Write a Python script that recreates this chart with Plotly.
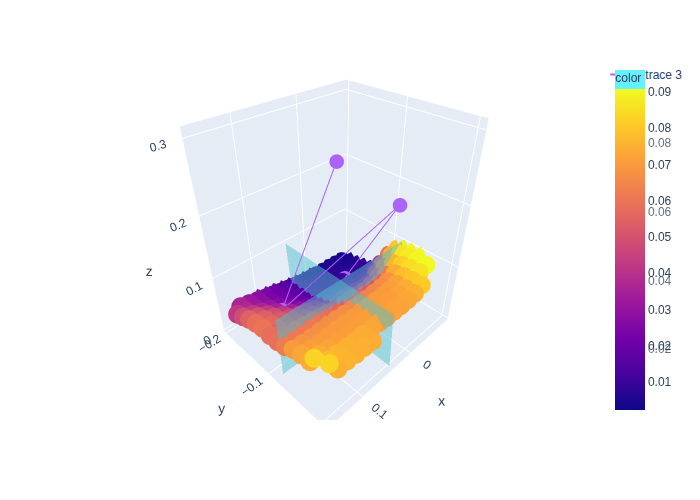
import plotly.graph_objects as go

x_grid = [-0.09, -0.075, -0.06, -0.045, -0.03, -0.015, 0.0, 0.015, 0.03, 0.045, 0.06, 0.075, 0.09, 0.105, 0.12, 0.135, 0.15]
y_grid = [-0.203, -0.195, -0.18, -0.165, -0.15, -0.135, -0.12, -0.105, -0.09, -0.075, -0.06, -0.045, -0.03, -0.015, 0.0]
z_table = [
    [None, None, None, None, None, None, .008, .009, .011, .014, .017, .021, .024, .028, None, None, None],
    [None, .003, .004, .005, .005, .006, .007, .008, .011, .014, .017, .021, .024, .028, .032, .036, None],
    [.004, .004, .005, .006, .007, .008, .009, .010, .012, .014, .018, .021, .024, .028, .032, .037, .042],
    [.006, .006, .006, .007, .008, .009, .010, .011, .012, .015, .018, .022, .026, .031, .036, .042, .048],
    [.009, .008, .008, .009, .010, .011, .011, .012, .014, .016, .020, .024, .029, .035, .042, .049, .054],
    [.013, .011, .010, .011, .012, .013, .014, .015, .016, .020, .024, .029, .034, .041, .048, .054, .058],
    [.032, .024, .018, .016, .017, .018, .020, .021, .023, .027, .031, .036, .041, .047, .052, .056, .060],
    [.060, .050, .038, .028, .027, .029, .030, .032, .030, .033, .037, .041, .045, .049, .052, .055, .058],
    [.080, .075, .060, .048, .042, .040, .041, .043, .042, .044, .047, .050, .053, .055, .057, .058, .059],
    [.088, .086, .076, .062, .055, .052, .053, .054, .052, .054, .056, .058, .060, .061, .061, .061, .062],
    [.090, .088, .082, .074, .068, .066, .065, .064, .064, .065, .066, .067, .067, .067, .067, .068, .070],
    [.091, .090, .085, .078, .072, .071, .070, .070, .070, .070, .070, .070, .070, .070, .070, .071, .073],
    [None, .091, .086, .080, .074, .072, .071, .071, .071, .071, .071, .071, .071, .071, .072, .074, .074],
    [None, None, None, .081, .075, .073, .072, .072, .071, .072, .073, .074, .074, .075, .076, .077, None],
    [None, None, None, None, None, None, None, None, None, None, None, .074, .075, .075, .076, .075, None],
]
extra_x = [0.148, 0.141]
extra_y = [-0.025, -0.0075]
extra_z = [0.083, 0.083]

pts_x, pts_y, pts_z = list(extra_x), list(extra_y), list(extra_z)
for yv, row in zip(y_grid, z_table):
    for xv, zv in zip(x_grid, row):
        if zv is not None:
            pts_x.append(xv); pts_y.append(yv); pts_z.append(zv)

wall1_x = [[0.043, 0.045], [0.035, 0.042]]
wall1_y = [[-0.197, 0.006], [-0.2, 0.006]]
wall1_z = [[0.1013, 0.1013], [0.0022, 0.0022]]
wall2_x = [[-0.085, 0.152], [-0.085, 0.152]]
wall2_y = [[-0.08, -0.086], [-0.078, -0.083]]
wall2_z = [[0.1013, 0.1013], [0.0022, 0.0022]]

vec_x = [0.0856, 0.0956, -0.0308, -0.037]
vec_y = [-0.0496, -0.149, -0.0527, -0.151]
vec_z = [0.30, 0.034, 0.2, 0.014]

x_range = [-0.093, 0.163]
y_range = [-0.205, 0.01]
z_range = [-0.003, 0.3135]
wall_ticks = [0.02, 0.04, 0.06, 0.08]

plasma = [[0, '#0d0887'], [0.1111, '#46039f'], [0.2222, '#7201a8'], [0.3333, '#9c179e'],
          [0.4444, '#bd3786'], [0.5556, '#d8576b'], [0.6667, '#ed7953'], [0.7778, '#fb9f3a'],
          [0.8889, '#fdca26'], [1, '#f0f921']]
cyan = [[0, 'rgb(102,240,255)'], [1, 'rgb(102,240,255)']]

fig = go.Figure()
fig.add_trace(go.Scatter3d(x=pts_x, y=pts_y, z=pts_z, mode='markers', showlegend=False,
                           marker=dict(size=11, color=pts_z, coloraxis='coloraxis', opacity=1)))
for sx, sy, sz in [(wall1_x, wall1_y, wall1_z), (wall2_x, wall2_y, wall2_z)]:
    fig.add_trace(go.Surface(x=sx, y=sy, z=sz, colorscale=cyan, opacity=0.5, cmin=0.0022, cmax=0.1013,
                             colorbar=dict(tickvals=wall_ticks, ticktext=['0.02', '0.04', '0.06', '0.08'],
                                           tickfont=dict(color='#5f6f88'))))
fig.data[2].showscale = False
fig.add_trace(go.Scatter3d(x=vec_x, y=vec_y, z=vec_z, mode='lines+markers', marker=dict(size=8.5)))
fig.update_layout(
    margin=dict(t=60), showlegend=True, width=700, height=500, font=dict(family='Liberation Sans'),
    coloraxis=dict(colorscale=plasma, cmin=0.0023, cmax=0.0908,
                   colorbar=dict(title=dict(text='color', font=dict(size=12)), dtick=0.01, tick0=0)),
    scene=dict(xaxis=dict(title='x', range=x_range), yaxis=dict(title='y', range=y_range),
               zaxis=dict(title='z', range=z_range)),
)
fig.write_html("out.html", post_script="document.body.style.margin='0';", config=dict(displayModeBar=False))
